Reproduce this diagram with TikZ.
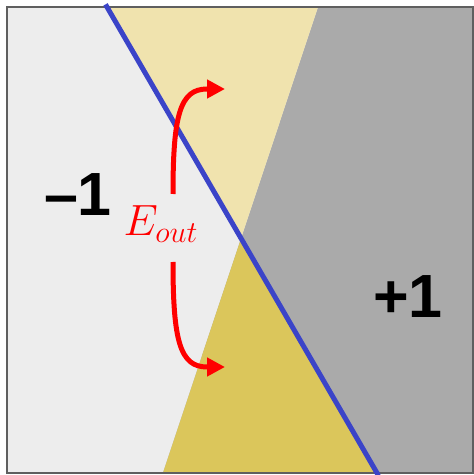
\documentclass[tikz,border=0pt]{standalone}
\usepackage{fontspec}
\newfontfamily\signfont{Liberation Sans}
\usetikzlibrary{arrows.meta}
\definecolor{negside}{HTML}{EDEDED}
\definecolor{posside}{HTML}{AAAAAA}
\definecolor{falsepos}{HTML}{F0E3AE}
\definecolor{falseneg}{HTML}{DBC65B}
\definecolor{hypoblue}{HTML}{3B44C8}
\definecolor{framegray}{HTML}{5F5F5F}
\begin{document}
\begin{tikzpicture}[x=0.2mm, y=0.2mm,
  sign/.style={font=\signfont\bfseries\fontsize{34.7}{40}\selectfont, inner sep=0pt},
  errlabel/.style={text=red, font=\fontsize{24.5}{29}\selectfont, inner sep=0pt},
  errarrow/.style={draw=red, line width=1mm, -{Triangle[length=3.6mm, width=3.6mm]}}]
\useasboundingbox (0,0) rectangle (474,475);
\coordinate (sw) at (7,2);
\coordinate (se) at (473,2);
\coordinate (ne) at (473,468);
\coordinate (targettop) at (318,468);
\coordinate (targetbot) at (163,2);
\coordinate (hypotop) at (107,468);
\coordinate (hypobot) at (377,2);
\coordinate (cross) at (intersection of targettop--targetbot and hypotop--hypobot);
\fill[negside] (sw) rectangle (ne);
\fill[posside] (targettop) -- (ne) -- (se) -- (targetbot) -- cycle;
\fill[falsepos] (hypotop) -- (targettop) -- (cross) -- cycle;
\fill[falseneg] (cross) -- (targetbot) -- (hypobot) -- cycle;
\draw[framegray, line width=0.4mm] (sw) rectangle (ne);
\draw[hypoblue, line width=1mm, shorten <=-0.6mm, shorten >=-0.6mm] (hypotop) -- (hypobot);
\node[sign] (minus) at (78,280) {–1};
\node[sign] (plus) at (408,178) {+1};
\node[errlabel] (eout) at (161,251) {$E_{out}$};
\coordinate (up0) at (173,281);
\coordinate (up1) at (207,386);
\coordinate (uptip) at (225,386);
\coordinate (dn0) at (173,213);
\coordinate (dn1) at (207,108);
\coordinate (dntip) at (225,108);
\draw[errarrow] (up0) .. controls (173,360) and (180,386) .. (up1) -- (uptip);
\draw[errarrow] (dn0) .. controls (173,134) and (180,108) .. (dn1) -- (dntip);
\end{tikzpicture}
\end{document}
